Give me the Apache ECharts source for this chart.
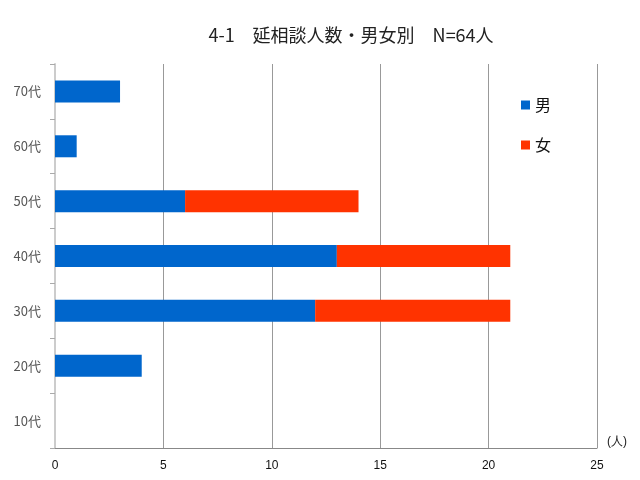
<!DOCTYPE html>
<html><head><meta charset="utf-8">
<script src="https://cdn.jsdelivr.net/npm/echarts@6/dist/echarts.min.js"></script>
<style>html,body{margin:0;padding:0;background:#fff}#c{width:640px;height:480px}</style>
</head><body><div id="c"></div>
<script>
const categories = ['10代','20代','30代','40代','50代','60代','70代'];
const male = [0, 4, 12, 13, 6, 1, 3];
const female = [0, 0, 9, 8, 8, 0, 0];
const xTicks = {min: 0, max: 25, interval: 5};
const chart = echarts.init(document.getElementById('c'));
chart.setOption({
  animation: false,
  backgroundColor: '#fff',
  title: {
    text: '4-1　延相談人数・男女別　N=64人',
    left: 346, top: 21, textAlign: 'center',
    textStyle: {fontSize: 18, fontWeight: 'normal', color: '#222', fontFamily: 'Noto Sans CJK JP'}
  },
  legend: {
    orient: 'vertical', left: 516, top: 92, itemGap: 24,
    itemWidth: 9, itemHeight: 9, icon: 'rect',
    textStyle: {fontSize: 16, color: '#111', fontFamily: 'Noto Sans CJK JP'},
    data: ['男','女']
  },
  grid: {left: 55, right: 43, top: 64, bottom: 32, containLabel: false},
  xAxis: {
    type: 'value', min: xTicks.min, max: xTicks.max, interval: xTicks.interval,
    name: '(人)', nameLocation: 'end', nameGap: 10,
    nameTextStyle: {fontSize: 12, color: '#222', verticalAlign: 'bottom', padding: [0,0,0,0]},
    axisLine: {show: true, lineStyle: {color: '#888'}},
    axisTick: {show: false},
    axisLabel: {fontSize: 12, color: '#111', margin: 12},
    splitLine: {show: true, lineStyle: {color: '#999'}}
  },
  yAxis: {
    type: 'category', data: categories,
    axisLine: {show: true, lineStyle: {color: '#ccc', width: 2}},
    axisTick: {show: true, inside: false, length: 5, lineStyle: {color: '#aaa'}},
    axisLabel: {fontSize: 13, color: '#555', margin: 14, fontFamily: 'Noto Sans CJK JP'}
  },
  series: [
    {name: '男', type: 'bar', stack: 's', data: male, barWidth: 22,
     itemStyle: {color: '#0066CC'}},
    {name: '女', type: 'bar', stack: 's', data: female, barWidth: 22,
     itemStyle: {color: '#FF3300'}}
  ]
});
</script></body></html>
